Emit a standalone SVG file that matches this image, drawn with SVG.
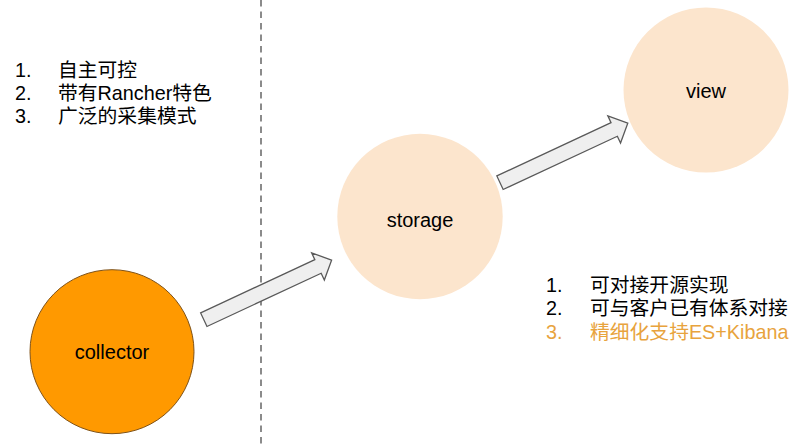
<svg xmlns="http://www.w3.org/2000/svg" width="800" height="447" viewBox="0 0 800 447">
<style>
.lbl{font-family:"Liberation Sans",Arial,sans-serif;font-size:20px;fill:#000;text-anchor:middle}
.li{font-family:"Liberation Sans",Arial,"Noto Sans CJK SC",sans-serif;font-size:19.8px;fill:#000}
.hl{fill:#E8A33D}
.light{fill:#FCE5CD;stroke:none}
.arrow{fill:#EFEFEF;stroke:#595959;stroke-width:1.3;stroke-linejoin:miter}
</style>
<defs>
<polygon id="arr" class="arrow" points="0,-7.5 126,-7.5 126,-15 141,0 126,15 126,7.5 0,7.5"/>
</defs>
<rect width="800" height="447" fill="#fff"/>
<line x1="261" y1="0" x2="261" y2="447" stroke="#666" stroke-width="1.5" stroke-dasharray="6.5,5"/>
<g id="connectors">
<use href="#arr" transform="translate(203.8,319.7) rotate(-25)"/>
<use href="#arr" transform="translate(500,182.7) rotate(-25)"/>
</g>
<g id="collector">
<circle cx="112" cy="351.7" r="82" fill="#FF9900" stroke="#7F5217" stroke-width="1"/>
<text class="lbl" x="112" y="359.3">collector</text>
</g>
<g id="storage">
<circle class="light" cx="420" cy="216.5" r="82.7"/>
<text class="lbl" x="420" y="227">storage</text>
</g>
<g id="view">
<circle class="light" cx="706" cy="90" r="82.5"/>
<text class="lbl" x="706" y="98">view</text>
</g>
<g id="left-list">
<text class="li" x="15" y="77">1.</text><text class="li" x="58" y="77">自主可控</text>
<text class="li" x="15" y="100">2.</text><text class="li" x="58" y="100">带有Rancher特色</text>
<text class="li" x="15" y="123">3.</text><text class="li" x="58" y="123">广泛的采集模式</text>
</g>
<g id="right-list">
<text class="li" x="546" y="291.5">1.</text><text class="li" x="590" y="291.5">可对接开源实现</text>
<text class="li" x="546" y="315">2.</text><text class="li" x="590" y="315">可与客户已有体系对接</text>
<text class="li hl" x="546" y="338.5">3.</text><text class="li hl" x="590" y="338.5">精细化支持ES+Kibana</text>
</g>
</svg>
